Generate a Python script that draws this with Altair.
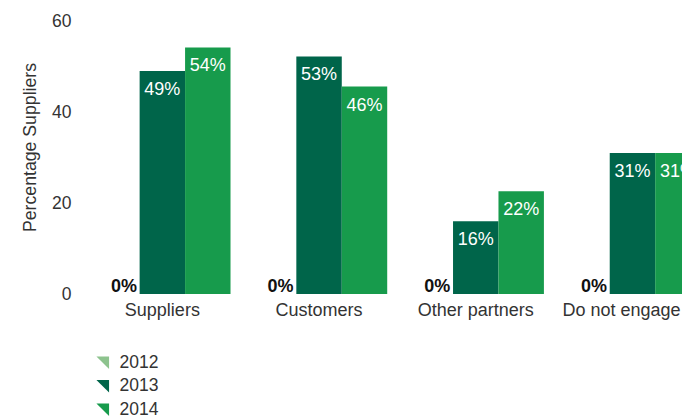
import altair as alt
import pandas as pd

categories = ["Suppliers", "Customers", "Other partners", "Do not engage"]
years = ["2012", "2013", "2014"]
values_2012 = [0, 0, 0, 0]
values_2013 = [49, 52.2, 16, 31]
values_2014 = [54.2, 45.6, 22.6, 31]
labels_2012 = ["0%", "0%", "0%", "0%"]
labels_2013 = ["49%", "53%", "16%", "31%"]
labels_2014 = ["54%", "46%", "22%", "31%"]
y_ticks = [0, 20, 40, 60]
colors = ["#8dc38e", "#00654a", "#179b4c"]

rows = []
for yr, vals, labs in zip(years, [values_2012, values_2013, values_2014],
                          [labels_2012, labels_2013, labels_2014]):
    for c, v, l in zip(categories, vals, labs):
        rows.append({"category": c, "year": yr, "value": v, "label": l})
df = pd.DataFrame(rows)
cat_df = pd.DataFrame({"category": categories})

FONT = "Liberation Sans"
PLOT_H = 273

xscale = alt.Scale(domain=categories, range=[0, 626.8], paddingInner=0.13, paddingOuter=0.065)
x = alt.X("category:N", sort=categories, title=None, scale=xscale, axis=None)
xo = alt.XOffset("year:N", sort=years, scale=alt.Scale(paddingInner=0, paddingOuter=0))
y = alt.Y(
    "value:Q", scale=alt.Scale(domain=[0, 60], nice=False),
    axis=alt.Axis(values=y_ticks, domain=False, ticks=False, tickSize=0, grid=False,
                  labelPadding=13, labelFontSize=17.5, labelColor="#333333",
                  labelFont=FONT, title="Percentage Suppliers", titleFont=FONT,
                  titleFontSize=17.7, titleFontWeight="normal", titleColor="#333333",
                  titleAngle=270, titleX=-54, titleY=126, titleAlign="center",
                  titleBaseline="middle"),
)
color = alt.Color(
    "year:N", sort=years,
    scale=alt.Scale(domain=years, range=colors),
    legend=alt.Legend(orient="none", legendX=10, legendY=333, title=None,
                      symbolType="M-1,-1L1,-1L1,1Z", symbolSize=160,
                      symbolStrokeWidth=0, labelFontSize=17.5, labelColor="#333333",
                      labelFont=FONT, labelOffset=8, rowPadding=4.5, padding=0),
)

base = alt.Chart(df)
bars = base.mark_bar(clip=True).encode(x=x, xOffset=xo, y=y, color=color)
text_in = base.transform_filter(alt.datum.year != "2012").mark_text(
    color="white", fontSize=18, font=FONT, baseline="alphabetic", dy=24, clip=True
).encode(x=x, xOffset=xo, y=y, text="label:N")
text_zero = base.transform_filter(alt.datum.year == "2012").mark_text(
    color="#111111", fontSize=18, font=FONT, fontWeight="bold", align="right",
    baseline="alphabetic", dx=20, dy=-2, clip=True
).encode(x=x, xOffset=xo, y=y, text="label:N")

cat_base = alt.Chart(cat_df)
xlab = alt.X("category:N", sort=categories, title=None, scale=xscale, axis=None)
cat_labels = cat_base.transform_filter(
    alt.datum.category != categories[-1]
).mark_text(fontSize=18, font=FONT, color="#333333", baseline="top").encode(
    x=xlab, y=alt.value(PLOT_H + 8), text="category:N")
cat_last = cat_base.transform_filter(
    alt.datum.category == categories[-1]
).mark_text(fontSize=18, font=FONT, color="#333333", baseline="top", dx=-11).encode(
    x=xlab, y=alt.value(PLOT_H + 8), text="category:N")

chart = alt.layer(bars, text_in, text_zero, cat_labels, cat_last).properties(
    width=598, height=PLOT_H,
    autosize=alt.AutoSizeParams(type="none"),
    padding={"left": 76, "top": 13, "right": 0, "bottom": 125},
).configure_view(stroke=None)

chart.save("out.html", embed_options={"renderer": "svg", "actions": False})
